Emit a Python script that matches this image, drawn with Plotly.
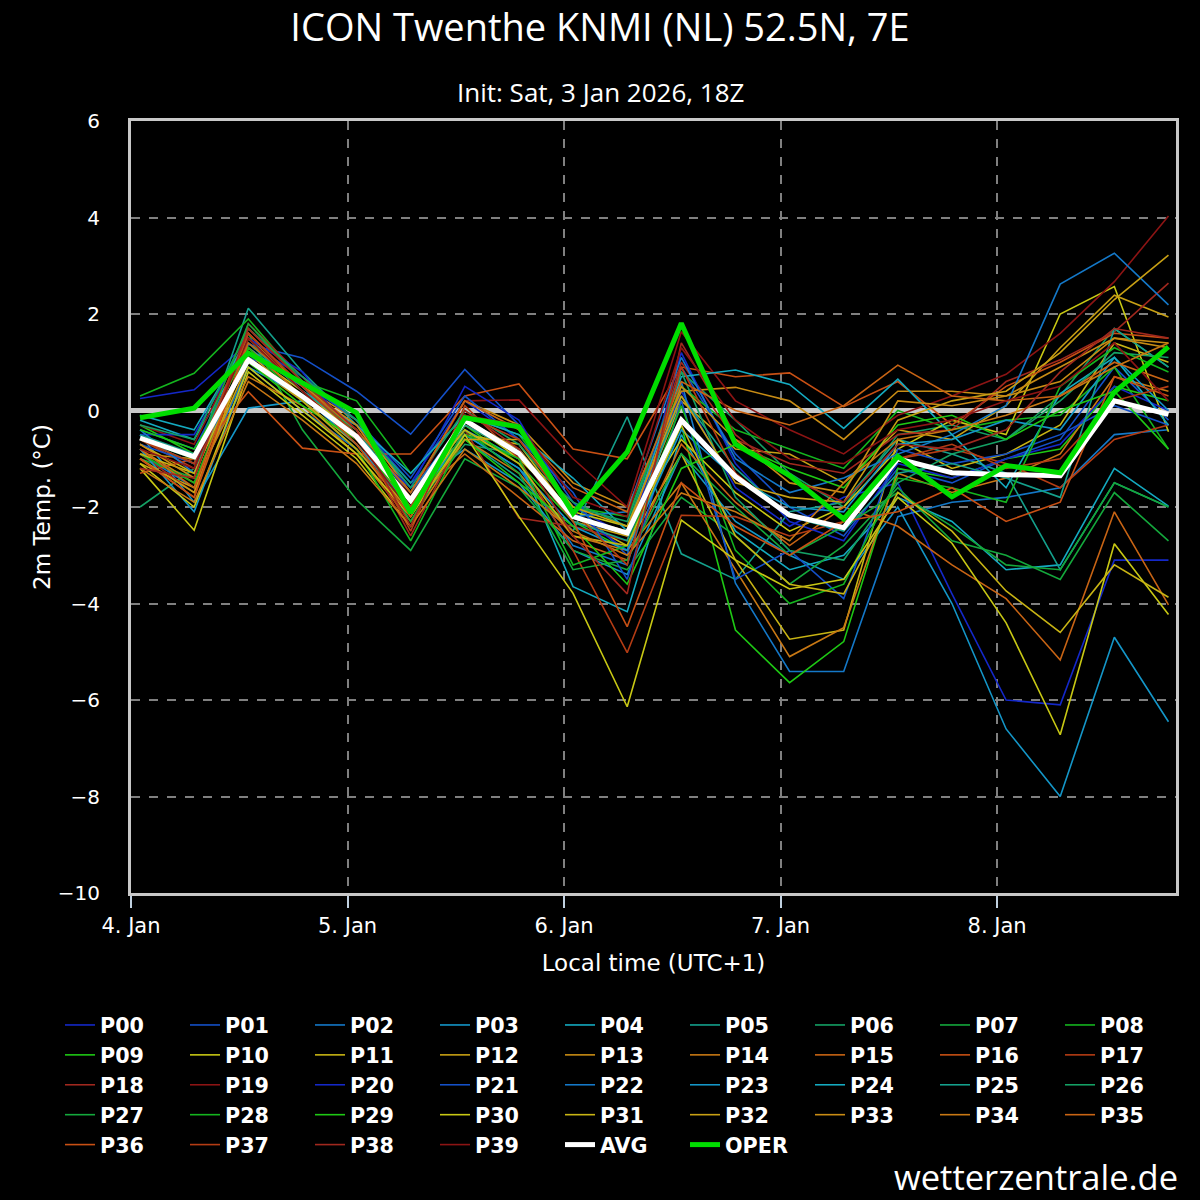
import plotly.graph_objects as go
import pandas as pd

# 6-hourly steps, local time (UTC+1)
times = pd.date_range("2026-01-04 01:00", periods=20, freq="6h")

# member colours (20 colour cycle, used twice)
colours = ["#1428c8", "#1450c8", "#1478c8", "#1496c8", "#14aac0", "#14a08c",
           "#14a064", "#14a83c", "#14b41e", "#1ec814", "#c8c814", "#c8b414",
           "#c8a014", "#c88c14", "#c87814", "#c86414", "#c85014", "#b43c14",
           "#a0281e", "#8c1414"]

P00 = [0.25, 0.43, 1.4, 0.7, -0.2, -1.5, 0.2, -0.6, -2.0, -2.6, 0.4, -1.6, -2.4, -1.8, -1.5, -3.8, -6.0, -6.1, -3.1, -3.1]
P01 = [-0.4, -0.8, 1.37, 1.09, 0.4, -0.49, 0.85, -0.3, -1.9, -3.0, 0.9, -0.9, -2.0, -2.6, -1.2, -1.5, -1.0, -0.6, 0.9, -0.2]
P02 = [-0.9, -1.6, 0.9, 0.0, -0.8, -2.0, -0.5, -1.2, -2.8, -3.2, 0.6, -3.58, -5.41, -5.41, -2.2, -1.9, -1.8, -1.6, -0.5, -0.4]
P03 = [-0.5, -1.9, 0.05, 0.2, -0.3, -1.6, -0.8, -1.5, -2.9, -3.4, -0.9, -2.3, -3.0, -3.5, -2.0, -4.0, -6.6, -8.0, -4.7, -6.45]
P04 = [-0.2, -0.6, 1.3, 0.5, -0.6, -1.8, -0.4, -1.0, -3.65, -4.17, -0.5, -2.5, -3.3, -3.0, -1.8, -2.3, -3.3, -3.2, -1.2, -1.98]
P05 = [-0.6, -1.1, 2.12, 0.8, -0.3, -1.5, -0.6, -1.4, -2.5, -0.13, -2.97, -3.5, -2.1, -1.9, -0.6, -0.9, -1.3, -3.3, -1.5, -2.0]
P06 = [-2.0, -1.2, 1.1, 0.2, -0.8, -2.1, -0.7, -0.9, -1.9, -2.4, 0.8, -0.2, -1.3, -2.0, -0.5, -0.3, -0.6, 0.3, 1.7, 0.9]
P07 = [-1.0, -1.4, 1.6, -0.4, -1.85, -2.9, -1.0, -1.6, -2.9, -3.3, -1.8, -2.6, -3.6, -2.8, -1.6, -2.7, -3.0, -3.5, -1.7, -2.7]
P08 = [0.3, 0.77, 1.9, 0.6, 0.2, -1.3, -0.1, -0.5, -2.0, -2.2, 0.5, -0.4, -0.8, -1.2, 0.0, -0.4, -0.2, -0.1, 0.9, -0.8]
P09 = [-0.3, -0.9, 1.3, 0.3, -0.4, -2.2, -0.3, -1.1, -2.3, -2.9, -0.3, -4.55, -5.64, -4.79, -1.2, -1.4, -1.0, -0.8, 0.5, 0.2]
P10 = [-1.2, -2.48, 0.8, -0.1, -1.0, -2.4, -0.2, -1.0, -2.1, -2.4, -0.6, -1.7, -2.5, -2.0, -0.8, -0.2, -0.5, 2.0, 2.57, -0.44]
P11 = [-0.7, -1.3, 1.2, 0.4, -0.5, -1.9, -0.5, -0.7, -2.2, -2.8, -0.9, -3.1, -4.74, -4.55, -0.6, -1.2, -0.9, -0.3, 1.4, 1.0]
P12 = [-1.1, -1.6, 1.0, 0.2, -0.7, -2.0, -0.3, -0.9, -2.3, -2.6, 0.2, -0.8, -0.9, -1.5, -0.4, -0.6, 0.1, 1.3, 2.39, 1.94]
P13 = [-0.9, -1.0, 1.5, 0.5, -0.2, -1.7, 0.2, -0.3, -1.5, -2.0, 0.4, 0.48, 0.2, -0.6, 0.4, 0.4, 0.3, 0.9, 1.5, 1.4]
P14 = [-0.8, -1.5, 0.7, 0.1, -0.9, -2.3, -0.6, -1.3, -2.6, -2.9, -1.5, -3.3, -5.1, -4.5, -1.3, -1.7, -1.4, -0.9, 0.7, 0.4]
P15 = [-1.0, -1.8, 1.3, 0.3, -0.6, -1.9, -0.9, -1.8, -2.7, -3.1, -0.7, -1.9, -2.8, -2.0, -2.4, -3.2, -3.9, -5.17, -2.1, -4.03]
P16 = [-1.3, -1.0, 0.39, -0.78, -0.9, -0.9, 0.3, 0.55, -0.8, -1.0, 0.9, 0.7, 0.78, 0.08, 0.6, -0.3, 0.5, 1.0, 1.6, 1.5]
P17 = [-0.6, -1.2, 1.7, 0.6, -0.4, -2.5, 0.1, -1.0, -2.9, -5.02, -2.17, -2.2, -2.6, -2.3, -1.0, -0.8, -1.1, -1.6, -0.6, -0.3]
P18 = [-0.9, -1.7, 1.8, 0.7, -0.5, -2.6, -0.4, -2.23, -2.4, -2.7, 1.0, -0.6, -1.1, -1.3, -0.5, -0.4, 0.6, 1.05, 1.63, 2.64]
P19 = [-0.3, -0.7, 1.6, 0.4, -0.3, -1.8, 0.2, 0.22, -1.0, -2.0, 1.63, 0.2, -0.4, -0.9, -0.1, 0.3, 0.75, 1.6, 2.67, 4.03]
P20 = [-0.5, -0.5, 1.5, 0.8, -0.6, -1.6, 0.5, -0.2, -2.1, -2.9, 1.2, -1.1, -2.3, -2.7, -1.1, -1.4, -1.0, -0.7, 0.5, 0.0]
P21 = [-0.7, -1.1, 1.1, 0.6, -0.2, -1.4, 0.3, -0.6, -1.7, -3.5, 0.2, -3.5, -2.9, -3.9, -0.8, -1.1, -0.9, -0.5, 0.1, -0.3]
P22 = [-0.4, -1.3, 1.2, 0.5, -0.5, -1.7, -0.2, -0.8, -2.2, -2.1, 1.1, -1.0, -1.7, -1.4, -0.9, -0.5, 0.1, 2.62, 3.26, 2.19]
P23 = [-0.8, -2.1, 0.9, 0.3, -0.7, -2.0, -0.5, -1.2, -2.4, -2.9, -0.4, -1.4, -2.0, -2.1, -0.7, -0.6, -0.2, -0.4, 1.1, 0.0]
P24 = [-0.1, -0.4, 1.5, 0.4, -0.3, -1.3, -0.1, -0.5, -1.4, -2.5, 0.7, 0.84, 0.54, -0.37, 0.65, -0.5, -1.6, 0.35, 1.1, -0.3]
P25 = [-0.5, -0.9, 1.4, 0.4, -0.4, -1.9, -0.3, -0.9, -2.3, -2.7, 0.3, -1.2, -2.2, -2.5, -1.3, -1.1, -1.4, -1.8, 1.7, 0.9]
P26 = [-0.3, -0.6, 1.7, 0.7, -0.2, -1.6, 0.0, -0.7, -2.0, -2.3, 0.8, -1.8, -2.9, -3.1, -1.5, -0.9, -0.6, 0.2, 1.2, 1.1]
P27 = [-0.6, -1.0, 1.8, 0.6, -0.5, -2.3, -0.4, -1.3, -3.3, -3.1, -0.9, -2.0, -3.0, -2.4, -1.7, -2.4, -3.2, -3.3, -1.5, -2.0]
P28 = [-0.9, -1.5, 1.3, 0.2, -0.8, -2.7, -0.5, -1.0, -3.2, -2.8, 0.1, -2.9, -4.0, -3.6, -1.4, -1.6, -1.9, 0.5, 1.3, 0.8]
P29 = [-0.4, -0.8, 1.0, 0.1, -0.6, -2.0, -0.6, -1.5, -2.4, -3.6, -1.2, -0.7, -1.2, -1.6, -0.3, -0.1, -0.6, 0.0, 0.4, -0.8]
P30 = [-1.1, -2.0, 0.9, 0.0, -0.9, -2.2, -0.5, -2.2, -3.79, -6.14, -2.27, -3.1, -3.7, -3.5, -1.8, -2.75, -4.4, -6.72, -2.76, -4.23]
P31 = [-0.9, -1.3, 1.1, 0.3, -0.6, -1.8, -0.4, -1.1, -2.6, -2.8, -0.3, -2.6, -3.6, -3.8, -1.7, -2.5, -3.74, -4.6, -3.2, -3.87]
P32 = [-1.0, -1.7, 1.2, 0.2, -0.8, -2.1, -0.6, -0.6, -2.0, -2.4, 0.3, -1.5, -1.8, -1.9, -0.2, 0.2, 0.4, 1.2, 2.3, 3.22]
P33 = [-0.7, -1.4, 1.6, 0.5, -0.3, -1.9, -0.2, -0.8, -2.2, -2.5, 0.5, -0.6, -1.5, -1.7, 0.2, 0.1, 0.3, 0.6, 1.5, 1.3]
P34 = [-1.2, -1.9, 0.6, -0.2, -1.1, -2.4, -0.8, -1.6, -2.5, -3.0, -1.71, -2.1, -2.7, -1.5, -0.6, -0.4, -0.1, 0.3, 0.9, 1.4]
P35 = [-0.8, -1.6, 1.4, 0.5, -0.4, -1.7, 0.2, -0.4, -1.6, -2.1, 0.6, 0.0, -0.3, 0.1, 0.94, 0.3, 0.2, 0.3, 1.0, 0.6]
P36 = [-1.0, -1.8, 1.5, 0.4, -0.7, -2.2, -0.2, -0.9, -2.3, -4.48, -1.5, -2.4, -3.0, -2.3, -2.1, -1.6, -2.3, -1.9, 0.7, 0.3]
P37 = [-0.6, -1.1, 1.6, 0.5, -0.5, -2.0, -0.1, -0.6, -2.1, -3.2, 0.9, -1.3, -2.2, -2.4, -1.0, -0.7, -1.2, -1.0, 0.2, 0.5]
P38 = [-1.2, -1.4, 1.7, 0.6, -0.4, -2.4, 0.0, -0.8, -2.6, -3.8, 1.4, -0.5, -1.4, -1.9, -0.7, -0.8, -0.4, 0.8, 1.7, 1.5]
P39 = [-0.8, -1.2, 1.5, 0.4, -0.6, -2.1, -0.1, -0.3, -1.8, -2.2, 1.3, -0.2, -1.0, -1.1, -0.4, -0.2, 0.2, 0.5, 1.4, 0.2]

AVG = [-0.57, -0.96, 1.05, 0.29, -0.54, -1.86, -0.2, -0.89, -2.2, -2.54, -0.2, -1.37, -2.17, -2.43, -1.0, -1.29, -1.33, -1.35, 0.2, -0.08]
OPER = [-0.15, 0.05, 1.19, 0.57, -0.05, -2.12, -0.15, -0.34, -2.13, -0.86, 1.81, -0.7, -1.35, -2.25, -0.95, -1.79, -1.14, -1.29, 0.38, 1.32]

members = [P00, P01, P02, P03, P04, P05, P06, P07, P08, P09,
           P10, P11, P12, P13, P14, P15, P16, P17, P18, P19,
           P20, P21, P22, P23, P24, P25, P26, P27, P28, P29,
           P30, P31, P32, P33, P34, P35, P36, P37, P38, P39]

fig = go.Figure()

for i, vals in enumerate(members):
    fig.add_trace(go.Scatter(x=times, y=vals, mode="lines", name="P%02d" % i,
                             line=dict(color=colours[i % 20], width=1.6)))

fig.add_trace(go.Scatter(x=times, y=AVG, mode="lines", name="AVG",
                         line=dict(color="white", width=5)))
fig.add_trace(go.Scatter(x=times, y=OPER, mode="lines", name="OPER",
                         line=dict(color="#00dd00", width=5)))

font = "DejaVu Sans"
thin = "Open Sans"

# plot area is 131..1176 px wide, 121..893 px high
fig.update_layout(
    width=1200, height=1200,
    paper_bgcolor="black", plot_bgcolor="black",
    margin=dict(l=131, r=24, t=121, b=307),
    font=dict(family=font, color="white", size=20),
    title=dict(text="ICON Twenthe KNMI (NL) 52.5N, 7E", x=0.5, xanchor="center",
               y=1 - 28 / 1200, yanchor="middle", font=dict(size=38, family=thin)),
    showlegend=True,
    # paper coords left of / below the plot so the legend may use 9 columns
    legend=dict(orientation="h", xref="paper", yref="paper",
                x=(60 - 131) / 1045, y=(893 - 1005) / 772,
                xanchor="left", yanchor="top",
                entrywidth=80, entrywidthmode="pixels",
                font=dict(size=20.7, family=font, weight="bold"),
                bgcolor="rgba(0,0,0,0)", itemclick=False),
    annotations=[
        dict(text="Init: Sat, 3 Jan 2026, 18Z", xref="paper", yref="paper",
             x=(600 - 131) / 1045, y=(893 - 92) / 772, xanchor="center", yanchor="middle",
             showarrow=False, font=dict(size=26, family=thin)),
        dict(text="wetterzentrale.de", xref="paper", yref="paper",
             x=(1180 - 131) / 1045, y=(893 - 1176) / 772, xanchor="right",
             yanchor="middle", showarrow=False, font=dict(size=34.5, family=thin)),
    ],
)

fig.update_xaxes(
    range=["2026-01-04 00:00", "2026-01-08 19:50"],
    dtick=86400000, tick0="2026-01-04", tickformat="%-d. %b",
    showgrid=True, gridcolor="#808080", griddash="dash", gridwidth=1.5,
    showline=True, linecolor="#c8c8c8", linewidth=3, mirror=True,
    ticks="outside", ticklen=12, tickcolor="#c0d0e0", tickwidth=1.5,
    tickfont=dict(size=21),
    title=dict(text="Local time (UTC+1)", font=dict(size=23), standoff=18),
    zeroline=False,
)

fig.update_yaxes(
    range=[-10, 6], dtick=2,
    showgrid=True, gridcolor="#808080", griddash="dash", gridwidth=1.5,
    showline=True, linecolor="#c8c8c8", linewidth=3, mirror=True,
    zeroline=True, zerolinecolor="#c8c8c8", zerolinewidth=5,
    ticks="", tickfont=dict(size=20), ticklabelstandoff=24,
    title=dict(text="2m Temp. (°C)", font=dict(size=23), standoff=1),
)

fig.write_html("out.html", config={"displayModeBar": False},
               post_script="document.body.style.margin='0';"
                           "document.body.style.background='black';")
